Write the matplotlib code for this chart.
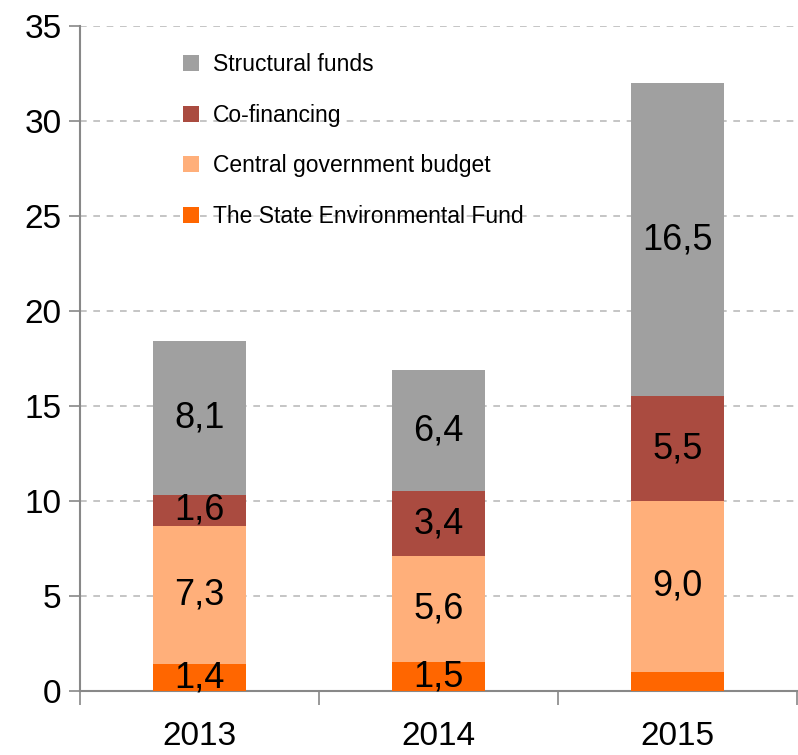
import matplotlib
matplotlib.use("Agg")
import matplotlib.pyplot as plt
from matplotlib import font_manager
import numpy as np

years = ["2013", "2014", "2015"]
state_env_fund = [1.4, 1.5, 1.0]
central_budget = [7.3, 5.6, 9.0]
co_financing = [1.6, 3.4, 5.5]
structural_funds = [8.1, 6.4, 16.5]
labels_state = ["1,4", "1,5", ""]
labels_central = ["7,3", "5,6", "9,0"]
labels_co = ["1,6", "3,4", "5,5"]
labels_struct = ["8,1", "6,4", "16,5"]
yticks = [0, 5, 10, 15, 20, 25, 30, 35]

names = {f.name for f in font_manager.fontManager.ttflist}
fam = ["Liberation Sans Narrow"] if "Liberation Sans Narrow" in names else ["Liberation Sans"]
plt.rcParams["font.family"] = fam + ["DejaVu Sans"]

fig = plt.figure(figsize=(7.98, 7.55), dpi=100)
ax = fig.add_axes([0.100, 0.085, 0.899, 0.8805])

x = np.arange(len(years))
w = 0.39
series = [
    (state_env_fund, "#FF6600", "The State Environmental Fund", labels_state),
    (central_budget, "#FFAF7A", "Central government budget", labels_central),
    (co_financing, "#AA4B40", "Co-financing", labels_co),
    (structural_funds, "#A0A0A0", "Structural funds", labels_struct),
]
bottom = np.zeros(len(years))
handles = []
for vals, col, name, labs in series:
    vals = np.array(vals)
    b = ax.bar(x, vals, w, bottom=bottom, color=col, label=name, zorder=3)
    handles.append(b)
    for xi, bi, vi, lab in zip(x, bottom, vals, labs):
        if lab:
            ax.text(xi, bi + vi / 2, lab, ha="center", va="center",
                    fontsize=26, color="black", zorder=4)
    bottom = bottom + vals

ax.set_xlim(-0.5, 2.5)
ax.set_ylim(0, 35)
ax.set_yticks(yticks)
ax.set_yticklabels([str(t) for t in yticks], fontsize=24)
ax.set_xticks(x)
ax.set_xticklabels(years, fontsize=24)
ax.tick_params(axis="x", which="major", length=0, pad=22)
ax.set_xticks([-0.5, 0.5, 1.5, 2.5], minor=True)
ax.tick_params(axis="x", which="minor", length=10, color="#888888", width=1.2, direction="out")
ax.tick_params(axis="y", length=8, color="#888888", width=1.2, pad=5)

ax.yaxis.grid(True, linestyle=(0, (4, 4)), color="#BBBBBB", linewidth=1.2, zorder=0)
for s in ["top", "right"]:
    ax.spines[s].set_visible(False)
for s in ["left", "bottom"]:
    ax.spines[s].set_color("#888888")
    ax.spines[s].set_linewidth(1.5)

leg = ax.legend(handles[::-1], [h.get_label() for h in handles[::-1]],
                loc="upper left", bbox_to_anchor=(0.115, 0.99), frameon=False,
                fontsize=16.5, handlelength=0.7, handleheight=0.7, handletextpad=0.6,
                labelspacing=1.2)
fig.savefig("out.png", dpi=100)
